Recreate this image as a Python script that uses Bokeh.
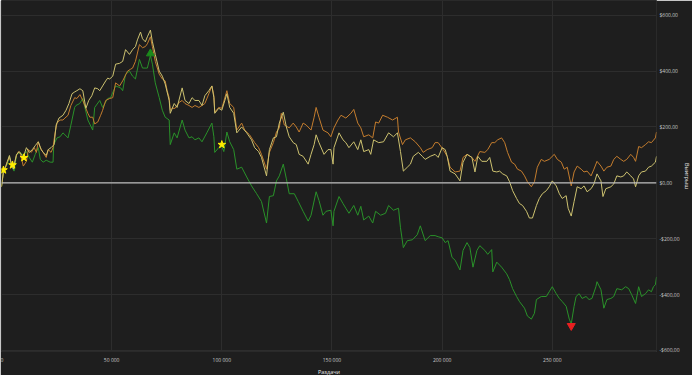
from bokeh.plotting import figure
from bokeh.models import Range1d, FixedTicker, CustomJSTickFormatter, Span, Title
from bokeh.embed import file_html
from bokeh.resources import INLINE

# ---- data (hands, winnings $) ----
green_x = [0, 900, 1800, 2700, 3600, 4600, 5700, 6900, 8400, 9900, 11300, 12600, 14000, 15300, 16700, 17600, 18900, 20300, 22100, 23400,
           23700, 25200, 26600, 27900, 28800, 30200, 31500, 33200, 33800, 35500, 36900, 39200, 41400, 42300, 44600, 45900, 48200, 49500, 51800, 54100,
           55000, 56300, 58100, 59500, 60800, 62600, 64000, 66200, 67600, 68500, 69800, 71600, 73000, 74300, 76100, 76600, 78400, 79700, 82000, 83300,
           85100, 86500, 87800, 89600, 91000, 93200, 95500, 96400, 96800, 98600, 100000, 100900, 102300, 103600, 105400, 106800, 109000, 111300, 113500, 115800,
           118000, 120300, 121600, 123400, 124800, 126100, 127900, 129300, 130600, 132900, 134700, 136900, 139200, 140500, 142800, 144100, 145900, 147300, 149500, 150500,
           150900, 153200, 155000, 156300, 157700, 159900, 161700, 163100, 164400, 166700, 168500, 169800, 172100, 174300, 175700, 177900, 180200, 181100, 182400, 184200,
           186500, 188700, 190100, 192300, 194600, 196800, 198200, 200000, 201400, 202700, 204500, 205900, 208100, 209500, 211300, 212600, 214000, 215800, 217100, 219400,
           220700, 222500, 223000, 224800, 227000, 229300, 230600, 232000, 233800, 235100, 237400, 238700, 240500, 241900, 242800, 245000, 247300, 248600, 250000, 251800,
           253200, 254500, 256300, 257700, 258600, 259900, 260800, 262200, 263500, 265300, 266700, 268000, 269800, 270300, 272100, 273400, 274800, 276600, 277900, 279300,
           281500, 283300, 284700, 286000, 287800, 289200, 290500, 292300, 293700, 295000, 295900, 296800, 297300]
green_y = [-14, 42, 56, 67, 95, 60, 42, 102, 109, 98, 112, 91, 74, 102, 126, 84, 74, 81, 74, 74,
           137, 161, 165, 179, 172, 161, 207, 270, 277, 284, 302, 225, 189, 270, 295, 270, 302, 305, 347, 340,
           330, 389, 400, 382, 372, 442, 411, 411, 456, 425, 358, 305, 260, 235, 225, 137, 179, 161, 225, 189,
           161, 165, 154, 161, 147, 179, 214, 165, 109, 126, 130, 112, 182, 147, 119, 49, 56, 21, -11, -39,
           -67, -144, -49, -46, 7, 25, 67, 14, -39, -39, -67, -102, -137, -116, -32, -63, -116, -102, -98, -154,
           -102, -49, -74, -91, -109, -81, -116, -84, -133, -119, -144, -102, -116, -109, -81, -98, -91, -161, -232, -207,
           -204, -186, -154, -207, -189, -189, -193, -197, -214, -207, -267, -277, -312, -242, -214, -232, -302, -242, -225, -242,
           -256, -239, -319, -284, -302, -326, -347, -379, -407, -425, -449, -477, -488, -467, -418, -407, -407, -390, -372, -397,
           -414, -425, -442, -488, -505, -442, -407, -397, -414, -407, -418, -414, -372, -354, -383, -449, -418, -414, -407, -379,
           -383, -372, -379, -400, -432, -372, -407, -397, -383, -390, -372, -365, -337]

orange_x = [0, 900, 1800, 2700, 3600, 4500, 5400, 6800, 7700, 8600, 9900, 11300, 12200, 13500, 14900, 15800, 16700, 17600, 18900, 20300,
            21200, 22500, 23400, 24300, 25200, 26600, 27900, 28800, 30200, 31500, 33200, 34200, 35600, 36900, 38300, 39200, 40100, 41400, 42300, 43700,
            45000, 45900, 47300, 49100, 50500, 51800, 53600, 55000, 57200, 58600, 59500, 60800, 62600, 64000, 65300, 66200, 67600, 68500, 69800, 71600,
            73000, 74300, 75200, 76100, 76600, 77500, 78800, 80600, 82000, 83300, 85100, 86500, 87800, 89600, 91000, 92300, 94100, 95500, 96400, 96800,
            98600, 100000, 102300, 103600, 105400, 106800, 109000, 110400, 112600, 114900, 116700, 118000, 120300, 121600, 123400, 124800, 126100, 127000, 128400, 130600,
            132400, 133800, 135100, 136900, 138300, 140500, 141900, 142800, 144100, 145900, 148200, 149500, 150900, 152700, 154100, 156300, 158600, 159900, 161700, 163100,
            164400, 166700, 168500, 169800, 171200, 173000, 175200, 177500, 179700, 180200, 182000, 183300, 185600, 187800, 190100, 191400, 193200, 195500, 196800, 198200,
            200500, 202300, 203600, 205900, 208100, 209500, 211300, 213500, 214900, 217100, 219400, 220700, 222500, 223900, 225200, 227000, 228400, 229700, 231500, 232900,
            234200, 236000, 237400, 238700, 240500, 241900, 243200, 245000, 246400, 248600, 250900, 252300, 254100, 255400, 256800, 258600, 259900, 261300, 263100, 264400,
            265800, 267600, 268900, 270300, 272100, 273400, 274800, 276600, 277900, 279300, 281100, 282400, 283800, 285600, 286900, 287800, 289200, 290500, 292300, 293700,
            295000, 296800, 297300]
orange_y = [-14, 39, 56, 77, 91, 67, 56, 98, 112, 102, 60, 77, 119, 109, 126, 109, 147, 126, 109, 91,
            119, 109, 126, 179, 214, 225, 225, 232, 242, 277, 305, 302, 316, 295, 267, 249, 235, 235, 211, 218,
            242, 260, 295, 302, 305, 358, 347, 365, 400, 407, 411, 435, 495, 484, 488, 498, 523, 488, 435, 389,
            372, 365, 330, 305, 260, 267, 267, 288, 295, 284, 277, 270, 277, 270, 277, 284, 319, 347, 312, 253,
            270, 267, 330, 284, 270, 189, 214, 189, 172, 144, 126, 102, 49, 109, 144, 182, 197, 249, 207, 197,
            214, 200, 182, 214, 207, 189, 235, 270, 235, 189, 179, 165, 197, 225, 242, 232, 249, 263, 214, 197,
            165, 172, 161, 218, 214, 242, 235, 225, 235, 182, 137, 154, 161, 147, 126, 109, 119, 126, 144, 144,
            119, 95, 56, 39, 42, 91, 102, 91, 77, 112, 109, 119, 144, 144, 154, 161, 144, 109, 74, 67,
            49, 42, 25, 4, -14, 4, 56, 84, 77, 84, 102, 84, 74, 49, 56, -11, 39, 60, 49, 39,
            42, 25, 49, 77, 60, 42, 56, 60, 84, 95, 84, 77, 84, 102, 91, 77, 130, 126, 137, 147,
            144, 161, 182]

yellow_x = [0, 900, 1800, 2700, 3600, 4500, 5400, 6800, 8100, 9900, 11300, 12600, 14000, 15300, 16700, 18000, 18900, 20300, 21200, 22500,
            23900, 24800, 26100, 27900, 29300, 30600, 32000, 33300, 34200, 35600, 36900, 38300, 39600, 41000, 42300, 43700, 44600, 45900, 47300, 48200,
            49100, 50500, 51800, 53600, 55000, 56300, 58100, 59500, 60800, 61700, 63100, 64000, 65300, 66200, 67600, 68500, 69800, 71600, 73000, 74300,
            76100, 76600, 78400, 79700, 82000, 83300, 85100, 86500, 87800, 89600, 91000, 92300, 94100, 95500, 96400, 96800, 98600, 100000, 102300, 103600,
            105400, 106800, 109000, 111300, 113500, 114900, 116700, 118000, 120300, 121600, 123400, 124800, 126100, 127900, 129300, 130600, 132400, 133800, 135100, 136900,
            139200, 140500, 141900, 142800, 144100, 146400, 148200, 149500, 150500, 150900, 153200, 155000, 156300, 157700, 159900, 161700, 163100, 164400, 166700, 167600,
            168900, 171200, 173400, 175700, 177900, 179700, 181100, 182400, 184200, 185600, 186900, 189200, 191000, 192300, 194600, 196800, 198200, 200000, 201400, 202300,
            203600, 205900, 208100, 209500, 211300, 213500, 214900, 216200, 218000, 220300, 221600, 223000, 224800, 226100, 227500, 229300, 230600, 232000, 233800, 235100,
            236500, 238300, 239600, 241000, 242800, 244100, 245500, 247300, 248600, 250000, 251800, 253200, 254500, 256300, 257200, 258600, 259900, 261300, 263100, 264400,
            265800, 267600, 268900, 270300, 272100, 273000, 274300, 276600, 277900, 279300, 281100, 282400, 283800, 285600, 286900, 287800, 289200, 290500, 292300, 293700,
            295000, 296800, 297300]
yellow_y = [-14, 42, 56, 77, 98, 67, 49, 102, 112, 91, 126, 109, 119, 133, 147, 119, 109, 98, 119, 126,
            137, 207, 232, 242, 260, 284, 319, 326, 330, 337, 330, 267, 295, 312, 340, 337, 330, 347, 365, 375,
            372, 382, 425, 428, 435, 477, 460, 477, 488, 512, 540, 516, 505, 523, 547, 505, 460, 400, 382, 354,
            295, 249, 284, 270, 340, 295, 284, 305, 295, 295, 277, 312, 330, 347, 305, 249, 267, 260, 319, 270,
            249, 179, 200, 179, 154, 126, 112, 91, 25, 119, 161, 165, 214, 253, 200, 165, 144, 137, 102, 95,
            67, 102, 137, 172, 144, 102, 119, 119, 67, 126, 179, 154, 144, 126, 147, 119, 154, 112, 119, 102,
            154, 144, 147, 179, 165, 179, 112, 42, 56, 67, 95, 109, 95, 84, 95, 102, 91, 126, 119, 95,
            42, 32, 7, 74, 102, 91, 39, 95, 77, 77, 91, 42, 39, 42, 32, 25, 4, -28, -56, -74,
            -81, -102, -126, -126, -81, -56, -39, -28, -14, 7, -11, -39, -56, -46, -91, -119, -67, -14, -21, -11,
            -32, -21, -4, 32, 7, -49, -21, -14, -4, 25, 21, 25, 39, 25, 14, -14, 25, 39, 42, 56,
            60, 74, 95]

star_x = [900, 5000, 10200, 100000]
star_y = [46, 64, 90, 137]
max_x, max_y = [67600], [463]
min_x, min_y = [258600], [-512]

x_ticks = [0, 50000, 100000, 150000, 200000, 250000]
y_ticks = [-600, -400, -200, 0, 200, 400, 600]
x_title = "Раздачи"
y_title = "Выигрыш"

BG = "#1e1e1e"
TXT = "#c8c8c8"
FONT = "Open Sans"

p = figure(width=692, height=375, x_range=Range1d(0, 297300), y_range=Range1d(-604, 653),
           y_axis_location="right", output_backend="svg", toolbar_location=None,
           background_fill_color=BG, border_fill_color=BG, outline_line_color="#2a2a2a",
           min_border_left=1, min_border_top=0, min_border_right=0, min_border_bottom=0)

p.xgrid.ticker = FixedTicker(ticks=x_ticks)
p.ygrid.ticker = FixedTicker(ticks=y_ticks)
p.grid.grid_line_color = "#2d2d2d"
p.grid.grid_line_width = 1

p.xaxis.ticker = FixedTicker(ticks=x_ticks)
p.yaxis.ticker = FixedTicker(ticks=y_ticks)
p.xaxis.formatter = CustomJSTickFormatter(code=r"return tick.toFixed(0).replace(/\B(?=(\d{3})+(?!\d))/g, ' ');")
p.yaxis.formatter = CustomJSTickFormatter(code=r"""
const a = Math.abs(tick).toFixed(2).replace('.', ',');
return (tick < 0 ? '-' : '') + '$' + a;
""")
for ax in (p.xaxis[0], p.yaxis[0]):
    ax.axis_line_color = None
    ax.major_tick_line_color = None
    ax.minor_tick_line_color = None
    ax.major_tick_out = 0
    ax.major_tick_in = 0
    ax.major_label_text_font = FONT
    ax.major_label_text_font_size = "5px"
    ax.major_label_text_color = TXT
p.xaxis.major_label_standoff = 5
p.yaxis.major_label_standoff = 3

# axis titles as side titles (compact panels)
p.add_layout(Title(text=x_title, align="center", text_font=FONT, text_font_size="5.5px",
                   text_font_style="normal", text_color="#e6e6e6", standoff=0, offset=0), "below")
p.add_layout(Title(text=y_title, align="center", text_font=FONT, text_font_size="5.5px",
                   text_font_style="normal", text_color="#e6e6e6", standoff=0, offset=0), "right")

p.add_layout(Span(location=0, dimension="width", line_color="#bdbdbd", line_width=1.2))

p.line(green_x, green_y, line_color="#2a922a", line_width=1.0)
p.line(orange_x, orange_y, line_color="#c47d2e", line_width=1.0)
p.line(yellow_x, yellow_y, line_color="#cdc270", line_width=1.0)

p.scatter(star_x, star_y, marker="star", size=8, fill_color="#ffee00", line_color="#ffee00")
p.scatter(max_x, max_y, marker="triangle", size=8, fill_color="#1b8a1b", line_color="#1b8a1b")
p.scatter(min_x, min_y, marker="inverted_triangle", size=8, fill_color="#e82020", line_color="#e82020")

open("out.html", "w").write(file_html(p, INLINE))
